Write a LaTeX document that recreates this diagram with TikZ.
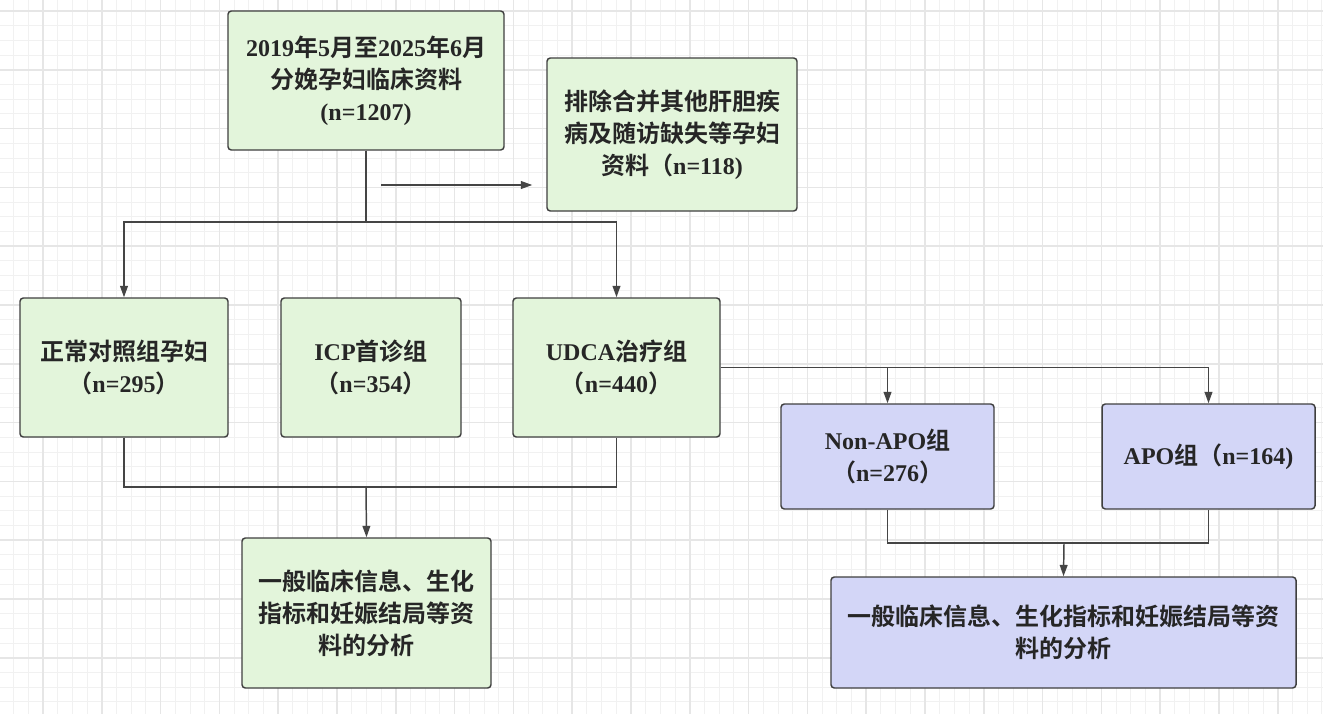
\documentclass[tikz,border=0pt]{standalone}
\usepackage{fontspec}
\setmainfont{Liberation Serif}
\newfontfamily\cjkf{Noto Sans CJK SC}[BoldFont={Noto Sans CJK SC Bold}]
\newcommand\C[1]{{\cjkf #1}}
\usetikzlibrary{arrows.meta}
\definecolor{gfill}{HTML}{E3F5DB}
\definecolor{bfill}{HTML}{D3D6F7}
\definecolor{bord}{HTML}{3F3F3F}
\definecolor{lnc}{HTML}{454545}
\definecolor{txt}{HTML}{262626}
\definecolor{gminor}{HTML}{F1F1F1}
\definecolor{gmajor}{HTML}{E6E6E6}
\tikzset{
  box/.style={draw=bord, line width=1.1pt, rounded corners=2.5pt, align=center,
    text=txt, font=\fontsize{18}{24}\selectfont\bfseries, inner sep=0pt},
  gbox/.style={box, fill=gfill},
  bbox/.style={box, fill=bfill},
  ln/.style={draw=lnc, line width=1.1pt},
  arr/.style={ln, -{Triangle[length=8.5pt,width=5.8pt]}},
}
\begin{document}
\begin{tikzpicture}[x=0.75pt,y=-0.75pt]
\useasboundingbox (0,0) rectangle (1323,714);
\fill[white] (0,0) rectangle (1323,714);
% grid
\foreach \i in {0,...,90} {
  \draw[gminor, line width=0.75pt] ({-1.1+14.7*\i},0) -- ({-1.1+14.7*\i},714);
}
\foreach \j in {0,...,49} {
  \draw[gminor, line width=0.75pt] (0,{-3.7+14.7*\j}) -- (1323,{-3.7+14.7*\j});
}
\foreach \i in {0,...,23} {
  \draw[gmajor, line width=1.1pt] ({43-58.8+58.8*\i},0) -- ({43-58.8+58.8*\i},714);
}
\foreach \j in {0,...,12} {
  \draw[gmajor, line width=1.1pt] (0,{11+58.8*\j}) -- (1323,{11+58.8*\j});
}
% nodes
\node[gbox, minimum width=276*0.75pt, minimum height=139*0.75pt] (top) at (366,80.5)
  {2019\C{年}5\C{月至}2025\C{年}6\C{月}\\\C{分娩孕妇临床资料}\\(n=1207)};
\node[gbox, minimum width=250*0.75pt, minimum height=153*0.75pt] (excl) at (672,134.5)
  {\C{排除合并其他肝胆疾}\\\C{病及随访缺失等孕妇}\\\C{资料（}n=118)};
\node[gbox, minimum width=208*0.75pt, minimum height=139*0.75pt] (n1) at (124,367.5)
  {\C{正常对照组孕妇}\\\C{（}n=295\C{）}};
\node[gbox, minimum width=180*0.75pt, minimum height=139*0.75pt] (n2) at (371,367.5)
  {ICP\C{首诊组}\\\C{（}n=354\C{）}};
\node[gbox, minimum width=207*0.75pt, minimum height=139*0.75pt] (n3) at (616.5,367.5)
  {UDCA\C{治疗组}\\\C{（}n=440\C{）}};
\node[gbox, minimum width=249*0.75pt, minimum height=150*0.75pt] (res1) at (366.5,613)
  {\C{一般临床信息、生化}\\\C{指标和妊娠结局等资}\\\C{料的分析}};
\node[bbox, minimum width=213*0.75pt, minimum height=105*0.75pt] (nonapo) at (887.5,456.5)
  {Non-APO\C{组}\\\C{（}n=276\C{）}};
\node[bbox, minimum width=213*0.75pt, minimum height=105*0.75pt] (apo) at (1208.5,456.5)
  {APO\C{组（}n=164)};
\node[bbox, minimum width=465*0.75pt, minimum height=111*0.75pt] (res2) at (1063.5,632.5)
  {\C{一般临床信息、生化指标和妊娠结局等资}\\\C{料的分析}};
% connectors
\coordinate (j1) at (366,222);
\coordinate (e0) at (381,185);
\coordinate (j2) at (366,487);
\coordinate (j3) at (1064,543);
\draw[ln] (top.south) -- (j1);
\draw[arr] (j1) -| (n1.north);
\draw[arr] (j1) -| (n3.north);
\draw[arr, shorten >=10.5pt] (e0) -- (excl.west |- e0);
\draw[ln] (n1.south) -- (n1.south |- j2) -- (n3.south |- j2) -- (n3.south);
\draw[arr] (j2) -- (res1.north);
\draw[arr] (n3.east) -| (apo.north);
\draw[arr] (nonapo.north |- n3.east) -- (nonapo.north);
\draw[ln] (nonapo.south) -- (nonapo.south |- j3) -- (apo.south |- j3) -- (apo.south);
\draw[arr] (j3) -- (res2.north);
\end{tikzpicture}
\end{document}
